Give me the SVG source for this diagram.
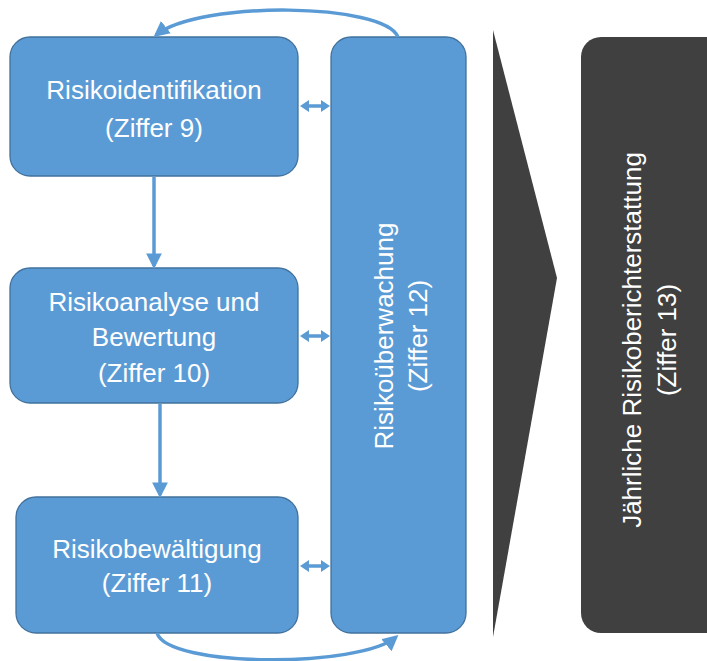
<svg xmlns="http://www.w3.org/2000/svg" width="707" height="661" viewBox="0 0 707 661">
<defs>
<style>
.box{fill:#5B9BD5;stroke:#41719C;stroke-width:1.3}
.dark{fill:#404040}
.t{fill:#ffffff;font-family:"Liberation Sans",Arial,sans-serif;font-size:26px;text-anchor:middle}
.c{fill:none;stroke:#5B9BD5;stroke-width:3.5}
.da{fill:#5B9BD5}
</style>
<marker id="ah" viewBox="0 0 10 10" refX="8" refY="5" markerWidth="4.5" markerHeight="4.5" orient="auto-start-reverse" markerUnits="strokeWidth">
<path d="M0,0 L10,5 L0,10 Z" fill="#5B9BD5"/>
</marker>
<path id="dbl" class="da" d="M0,0 L9,-6 L9,-1.7 L21,-1.7 L21,-6 L30,0 L21,6 L21,1.7 L9,1.7 L9,6 Z"/>
</defs>
<rect width="707" height="661" fill="#ffffff"/>
<g id="chevron"><polygon class="dark" points="493,30 557,278 493,637"/></g>
<g id="n13">
<rect class="dark" x="581" y="37" width="150" height="596" rx="20"/>
<text class="t" transform="translate(641,340) rotate(-90)">Jährliche Risikoberichterstattung</text>
<text class="t" transform="translate(676,340) rotate(-90)">(Ziffer 13)</text>
</g>
<g id="n12">
<rect class="box" x="331" y="37" width="135" height="596" rx="20"/>
<text class="t" transform="translate(393,336) rotate(-90)">Risikoüberwachung</text>
<text class="t" transform="translate(427,336) rotate(-90)">(Ziffer 12)</text>
</g>
<g id="n9">
<rect class="box" x="10" y="37" width="288" height="139" rx="20"/>
<text class="t" x="154" y="99">Risikoidentifikation</text>
<text class="t" x="154" y="137">(Ziffer 9)</text>
</g>
<g id="n10">
<rect class="box" x="10" y="268" width="288" height="135" rx="20"/>
<text class="t" x="154" y="311">Risikoanalyse und</text>
<text class="t" x="154" y="346">Bewertung</text>
<text class="t" x="154" y="382">(Ziffer 10)</text>
</g>
<g id="n11">
<rect class="box" x="16" y="497" width="282" height="136" rx="20"/>
<text class="t" x="157" y="558">Risikobewältigung</text>
<text class="t" x="157" y="592">(Ziffer 11)</text>
</g>
<g id="connectors">
<line class="c" x1="154" y1="177" x2="154" y2="266" marker-end="url(#ah)"/>
<line class="c" x1="160" y1="404" x2="160" y2="495" marker-end="url(#ah)"/>
<use href="#dbl" x="300" y="106"/>
<use href="#dbl" x="300" y="336"/>
<use href="#dbl" x="300" y="566"/>
<path class="c" d="M398,37 C385,3 200,0 156,35" marker-end="url(#ah)"/>
<path class="c" d="M157,633 C168,668 360,668 396,637" marker-end="url(#ah)"/>
</g>
</svg>
